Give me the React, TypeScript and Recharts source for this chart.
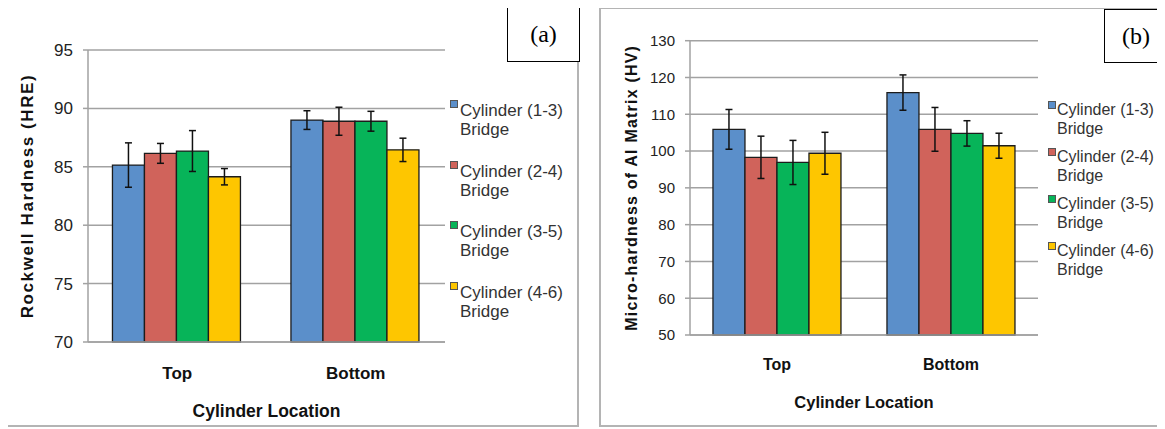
import { Bar, BarChart, CartesianGrid, ErrorBar, Label, Legend, XAxis, YAxis } from 'recharts';

const locations = ['Top', 'Bottom'];
const seriesNames = ['Cylinder (1-3) Bridge', 'Cylinder (2-4) Bridge', 'Cylinder (3-5) Bridge', 'Cylinder (4-6) Bridge'];
const seriesKeys = ['c13', 'c24', 'c35', 'c46'];
const COLORS = ['#5b8fca', '#d0635b', '#07b459', '#fec600'];

// (a) Rockwell hardness (HRE)
const hreTop = [85.15, 86.15, 86.35, 84.15];
const hreTopErr = [1.9, 0.85, 1.75, 0.7];
const hreBottom = [89.0, 88.9, 88.9, 86.45];
const hreBottomErr = [0.8, 1.2, 0.85, 1.0];
const hreTicks = [70, 75, 80, 85, 90, 95];

// (b) micro-hardness of Al matrix (HV)
const hvTop = [105.9, 98.3, 96.9, 99.4];
const hvTopErr = [5.4, 5.75, 6.0, 5.7];
const hvBottom = [115.9, 105.9, 104.8, 101.45];
const hvBottomErr = [4.8, 5.95, 3.45, 3.4];
const hvTicks = [50, 60, 70, 80, 90, 100, 110, 120, 130];

const FONT = "'Liberation Sans', Arial, sans-serif";
const GRID = '#a2a2a2';

const buildRows = (means: number[][], errs: number[][]) =>
  locations.map((loc, i) => {
    const row: Record<string, string | number> = { loc };
    seriesKeys.forEach((k, j) => {
      row[k] = means[i][j];
      row[`${k}Err`] = errs[i][j];
    });
    return row;
  });

const hreRows = buildRows([hreTop, hreBottom], [hreTopErr, hreBottomErr]);
const hvRows = buildRows([hvTop, hvBottom], [hvTopErr, hvBottomErr]);

type PanelCfg = {
  left: number;
  top: number;
  width: number;
  height: number;
  marginTop: number;
  marginRight: number;
  yAxisWidth: number;
  xAxisHeight: number;
  gap: string;
  tickFont: number;
  xTickFont: number;
  xTickMargin: number;
  yLabel: string;
  yLabelFont: number;
  yLabelSpacing: number;
  yLabelX: number;
  xLabelFont: number;
  xLabelY: number;
  legendLeft: number;
  legendTop: number;
  legendFont: number;
  legendLine: number;
  legendGap: number;
  legendTextLeft: number;
  legendSquareTop: number;
};

const makeLegend = (cfg: PanelCfg) => (props: any) => (
  <div style={{ fontFamily: FONT, fontSize: cfg.legendFont, lineHeight: `${cfg.legendLine}px`, color: '#333', whiteSpace: 'nowrap' }}>
    {(props.payload || []).map((p: any) => {
      const name = String(p.value);
      const cut = name.lastIndexOf(' ');
      return (
        <div key={name} style={{ position: 'relative', paddingLeft: cfg.legendTextLeft, marginBottom: cfg.legendGap }}>
          <span
            style={{
              position: 'absolute',
              left: 0,
              top: cfg.legendSquareTop,
              width: 8,
              height: 8,
              boxSizing: 'border-box',
              background: p.color,
              border: '1px solid #555',
            }}
          />
          <div>{name.slice(0, cut)}</div>
          <div>{name.slice(cut + 1)}</div>
        </div>
      );
    })}
  </div>
);

const Panel = ({ cfg, data, ticks }: { cfg: PanelCfg; data: Record<string, string | number>[]; ticks: number[] }) => (
  <div style={{ position: 'absolute', left: cfg.left, top: cfg.top }}>
    <BarChart
      width={cfg.width}
      height={cfg.height}
      data={data}
      margin={{ top: cfg.marginTop, right: cfg.marginRight, bottom: 0, left: 0 }}
      barCategoryGap={cfg.gap}
      barGap={0}
    >
      <CartesianGrid vertical={false} stroke={GRID} strokeWidth={1.5} />
      <XAxis
        dataKey="loc"
        height={cfg.xAxisHeight}
        axisLine={{ stroke: GRID, strokeWidth: 1.5 }}
        tickLine={false}
        tickSize={0}
        tickMargin={cfg.xTickMargin}
        tick={{ fill: '#111', fontSize: cfg.xTickFont, fontWeight: 700, fontFamily: FONT }}
      >
        <Label
          content={({ viewBox }: any) => (
            <text
              x={viewBox.x + viewBox.width / 2}
              y={cfg.xLabelY}
              textAnchor="middle"
              fill="#111"
              fontFamily={FONT}
              fontWeight={700}
              fontSize={cfg.xLabelFont}
            >
              Cylinder Location
            </text>
          )}
        />
      </XAxis>
      <YAxis
        domain={[ticks[0], ticks[ticks.length - 1]]}
        ticks={ticks}
        interval={0}
        width={cfg.yAxisWidth}
        axisLine={{ stroke: GRID, strokeWidth: 1.5 }}
        tickLine={{ stroke: GRID, strokeWidth: 1.5 }}
        tickSize={5}
        tickMargin={10}
        tick={{ fill: '#222', fontSize: cfg.tickFont, fontFamily: FONT }}
      >
        <Label
          content={({ viewBox }: any) => {
            const cy = viewBox.y + viewBox.height / 2;
            return (
              <text
                x={cfg.yLabelX}
                y={cy}
                transform={`rotate(-90 ${cfg.yLabelX} ${cy})`}
                textAnchor="middle"
                fill="#111"
                fontFamily={FONT}
                fontWeight={700}
                fontSize={cfg.yLabelFont}
                letterSpacing={cfg.yLabelSpacing}
              >
                {cfg.yLabel}
              </text>
            );
          }}
        />
      </YAxis>
      <Legend
        layout="vertical"
        align="center"
        verticalAlign="middle"
        wrapperStyle={{ left: cfg.legendLeft, top: cfg.legendTop }}
        content={makeLegend(cfg)}
      />
      {seriesKeys.map((k, j) => (
        <Bar key={k} dataKey={k} name={seriesNames[j]} fill={COLORS[j]} stroke="#1c1c1c" strokeWidth={1.3} isAnimationActive={false}>
          <ErrorBar dataKey={`${k}Err`} width={3.5} stroke="#111" strokeWidth={1.5} />
        </Bar>
      ))}
    </BarChart>
  </div>
);

const cfgA: PanelCfg = {
  left: 6,
  top: 7,
  width: 572,
  height: 418,
  marginTop: 43,
  marginRight: 133,
  yAxisWidth: 82,
  xAxisHeight: 83,
  gap: '13.7%',
  tickFont: 17,
  xTickFont: 17,
  xTickMargin: 25,
  yLabel: 'Rockwell Hardness (HRE)',
  yLabelFont: 17,
  yLabelSpacing: 1.6,
  yLabelX: 27,
  xLabelFont: 17.5,
  xLabelY: 410,
  legendLeft: 444,
  legendTop: 94,
  legendFont: 17,
  legendLine: 19,
  legendGap: 22.7,
  legendTextLeft: 10,
  legendSquareTop: -1,
};

const cfgB: PanelCfg = {
  left: 600,
  top: 8,
  width: 565,
  height: 417,
  marginTop: 32.7,
  marginRight: 127,
  yAxisWidth: 90,
  xAxisHeight: 90,
  gap: '13.2%',
  tickFont: 15,
  xTickFont: 16,
  xTickMargin: 24,
  yLabel: 'Micro-hardness of Al Matrix (HV)',
  yLabelFont: 16,
  yLabelSpacing: 1.2,
  yLabelX: 37,
  xLabelFont: 16.5,
  xLabelY: 400,
  legendLeft: 448,
  legendTop: 93,
  legendFont: 16,
  legendLine: 18.5,
  legendGap: 10,
  legendTextLeft: 9,
  legendSquareTop: 0,
};

const frame = (left: number, top: number, width: number, height: number) => ({
  position: 'absolute' as const,
  left,
  top,
  width,
  height,
  boxSizing: 'border-box' as const,
  border: '2px solid #b4b4b4',
});

const tagBox = (left: number, top: number, width: number, height: number) => ({
  position: 'absolute' as const,
  left,
  top,
  width,
  height,
  boxSizing: 'border-box' as const,
  border: '1.5px solid #000',
  background: '#fff',
  display: 'flex',
  alignItems: 'center',
  justifyContent: 'center',
  fontFamily: "'Liberation Serif', 'Times New Roman', serif",
  fontSize: 24,
  color: '#000',
});

export default function App() {
  return (
    <div style={{ position: 'relative', width: 1165, height: 429, margin: '-8px 0 0 -8px', background: '#fff', overflow: 'hidden' }}>
      <div style={frame(5, 6, 574, 421)} />
      <div style={frame(599, 7, 570, 420)} />
      <Panel cfg={cfgA} data={hreRows} ticks={hreTicks} />
      <Panel cfg={cfgB} data={hvRows} ticks={hvTicks} />
      <div style={tagBox(507, 7, 73, 55)}>(a)</div>
      <div style={tagBox(1104, 9, 64, 54)}>(b)</div>
    </div>
  );
}
